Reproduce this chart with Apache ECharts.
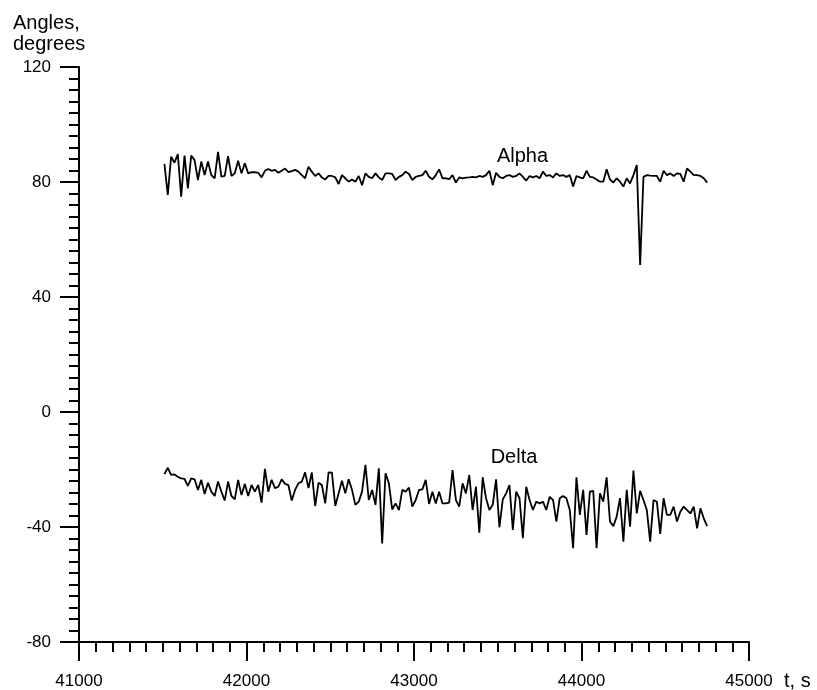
<!DOCTYPE html>
<html>
<head>
<meta charset="utf-8">
<script src="https://cdn.jsdelivr.net/npm/echarts@6/dist/echarts.min.js"></script>
<style>html,body{margin:0;padding:0;background:#fff}#c{width:817px;height:690px}</style>
</head>
<body>
<div id="c"></div>
<script>
// sampling of the time axis (s): first sample and step
const T0 = 41510;
const DT = 20;

const alpha = [
86.3, 75.5, 88.8, 86.7, 89.7, 74.9, 89.2, 77.8, 89.2, 87.6,
80.7, 87.1, 82.4, 87.1, 82.4, 81.3, 90.5, 81.9, 82.1, 89.0,
82.1, 83.0, 87.4, 83.0, 86.5, 83.0, 83.4, 83.4, 83.2, 81.6,
83.9, 84.5, 83.9, 84.2, 83.2, 83.9, 84.7, 83.4, 83.8, 84.2,
83.6, 82.4, 81.3, 85.3, 83.6, 82.1, 83.0, 81.6, 80.9, 82.1,
82.1, 81.6, 79.3, 82.4, 81.3, 80.1,
80.9, 80.1, 82.1, 78.9, 83.0, 81.8, 81.3, 83.0, 81.6, 80.7,
83.0, 83.0, 82.8, 80.7, 81.8, 82.4, 83.6, 82.8, 80.7, 81.8,
82.1, 82.4, 83.9, 81.8, 80.9, 82.4, 84.4, 81.3, 81.3, 81.0,
82.4, 79.8, 81.6, 81.3, 81.5, 81.6, 81.8, 81.6, 82.1, 81.8,
82.4, 83.9, 78.9, 83.2, 81.8, 81.3, 82.1, 82.4, 81.8, 82.1,
83.0, 81.8, 80.5, 82.1, 81.6, 82.1,
81.3, 83.6, 82.1, 82.4, 81.6, 83.0, 82.1, 82.4, 81.8, 82.4,
78.4, 82.1, 81.6, 81.3, 83.9, 81.8, 81.6, 80.9, 80.1, 80.1,
84.4, 80.9, 79.8, 81.3, 80.1, 78.4, 81.3, 79.5, 82.4, 85.9,
51.1, 81.8, 82.4, 82.2, 82.1, 82.1, 80.1, 83.9, 82.4, 83.0,
82.1, 83.0, 82.8, 80.1, 84.7, 83.6, 82.4, 82.4, 82.1, 81.3,
79.8
];

const delta = [
-21.6, -19.4, -21.9, -21.7, -22.5, -23.1, -23.3, -25.7, -23.1, -23.4,
-27.1, -23.6, -28.5, -24.6, -27.7, -29.2, -24.2, -27.7, -30.8, -24.2,
-29.2, -30.4, -23.6, -28.9, -25.0, -29.2, -25.4, -27.7, -25.4, -31.5,
-19.8, -27.7, -23.6, -26.5, -26.0, -23.4, -25.0, -25.4, -30.8, -27.1,
-24.8, -24.2, -21.0, -26.5, -21.0, -32.7, -24.6, -25.4, -31.8, -21.0,
-21.1, -32.7, -28.3, -23.9, -28.3, -23.4,
-27.1, -32.3, -31.2, -27.7, -18.4, -30.6, -27.1, -32.3, -19.6, -45.7,
-21.3, -24.8, -33.9, -31.8, -34.1, -27.1, -27.7, -26.3, -32.9, -30.6,
-27.1, -26.9, -23.6, -32.0, -27.7, -31.8, -27.7, -31.8, -31.8, -31.5,
-20.2, -30.6, -32.9, -24.8, -28.3, -21.9, -34.1, -26.0, -42.0, -22.7,
-30.0, -34.1, -32.3, -23.4, -40.1, -30.4, -28.3, -25.4, -41.0, -27.7,
-30.0, -43.9, -26.0, -30.6, -34.1, -31.2,
-31.8, -31.2, -34.1, -29.5, -30.6, -38.1, -30.0, -29.2, -30.0, -34.1,
-47.4, -22.7, -35.8, -27.1, -42.8, -27.7, -27.4, -47.4, -28.3, -31.2,
-22.7, -38.1, -39.7, -36.4, -30.0, -45.1, -27.1, -39.9, -20.4, -35.3,
-27.4, -30.6, -34.1, -45.1, -30.6, -31.2, -42.4, -30.0, -35.8, -35.8,
-32.9, -38.1, -34.7, -32.9, -34.1, -35.3, -32.9, -40.5, -33.5, -37.0,
-39.7
];

// series annotations (text placed in data coordinates)
const seriesNames = ['Alpha', 'Delta'];
const nameT = [43648, 43597];
const nameV = [88.9, -15.65];

// axis ranges / ticks
const xMin = 41000, xMax = 45000, xStep = 1000;
const yMin = -80, yMax = 120, yStep = 40;
const yTitle = 'Angles,\ndegrees';
const xTitle = 't, s';

const times = alpha.map((_, i) => T0 + i * DT);
const FONT = 'Liberation Sans, Arial, sans-serif';

const chart = echarts.init(document.getElementById('c'), null, {renderer: 'canvas'});

function mkSeries(name, vals, idx) {
  return {
    name: name,
    type: 'line',
    data: times.map((t, i) => [t, vals[i]]),
    showSymbol: false,
    symbol: 'none',
    lineStyle: {color: '#000', width: 1.8},
    animation: false,
    markPoint: {
      symbol: 'circle',
      symbolSize: 1,
      itemStyle: {color: 'rgba(0,0,0,0)'},
      label: {show: true, position: 'inside', formatter: '{b}', color: '#000', fontSize: 20, fontFamily: FONT},
      data: [{name: name, coord: [nameT[idx], nameV[idx]]}]
    }
  };
}

const option = {
  backgroundColor: '#fff',
  animation: false,
  grid: {left: 79, right: 68, top: 67, bottom: 48, containLabel: false},
  xAxis: {
    type: 'value', min: xMin, max: xMax, interval: xStep,
    axisLine: {show: true, onZero: false, lineStyle: {color: '#000', width: 2}},
    axisTick: {show: true, length: 19, lineStyle: {color: '#000', width: 2}},
    minorTick: {show: true, splitNumber: 10, length: 10, lineStyle: {color: '#000', width: 2}},
    splitLine: {show: false},
    axisLabel: {margin: 31, color: '#000', fontSize: 17, fontFamily: FONT, formatter: v => String(v)}
  },
  yAxis: {
    type: 'value', min: yMin, max: yMax, interval: yStep,
    axisLine: {show: true, onZero: false, lineStyle: {color: '#000', width: 2}},
    axisTick: {show: true, length: 19, lineStyle: {color: '#000', width: 2}},
    minorTick: {show: true, splitNumber: 10, length: 10, lineStyle: {color: '#000', width: 2}},
    splitLine: {show: false},
    axisLabel: {margin: 28, color: '#000', fontSize: 17, fontFamily: FONT, formatter: v => String(v)}
  },
  graphic: [
    {type: 'text', left: 13, top: 13, style: {text: yTitle, fill: '#000', font: '20px ' + FONT, lineHeight: 21}},
    {type: 'text', left: 784, top: 671, style: {text: xTitle, fill: '#000', font: '20px ' + FONT}}
  ],
  series: [mkSeries(seriesNames[0], alpha, 0), mkSeries(seriesNames[1], delta, 1)]
};
chart.setOption(option);
</script>
</body>
</html>
